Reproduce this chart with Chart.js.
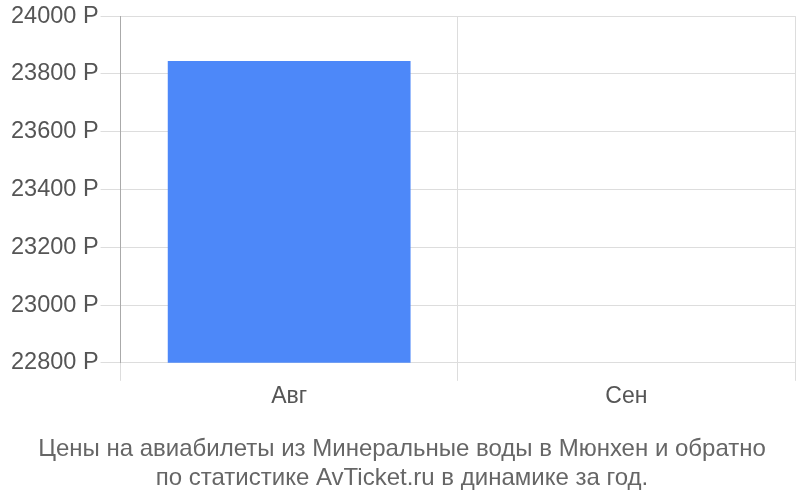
<!DOCTYPE html>
<html>
<head>
<meta charset="utf-8">
<script src="https://cdn.jsdelivr.net/npm/chart.js@4/dist/chart.umd.min.js"></script>
<style>
  html, body { margin: 0; padding: 0; background: #fff; }
  #wrap { width: 800px; height: 500px; }
</style>
</head>
<body>
<div id="wrap"><canvas id="barchart"></canvas></div>
<script>
var months = ['Авг', 'Сен'];
var prices = [23845, null];
var titleLines = [
    'Цены на авиабилеты из Минеральные воды в Мюнхен и обратно',
    'по статистике AvTicket.ru в динамике за год.'
];

function renderBarChart()
{
    var ctx = document.getElementById('barchart').getContext('2d');
    new Chart(ctx, {
        type: 'bar',
        data: {
            labels: months,
            datasets: [{
                data: prices,
                backgroundColor: '#4d88f9',
                barPercentage: 0.72,
                categoryPercentage: 1.0
            }]
        },
        options: {
            responsive: true,
            maintainAspectRatio: false,
            animation: false,
            layout: { padding: { left: 9, right: 5, top: 5, bottom: 7 } },
            plugins: {
                legend: { display: false },
                tooltip: { enabled: false },
                title: {
                    display: true,
                    position: 'bottom',
                    text: titleLines,
                    color: '#666',
                    font: { family: 'Liberation Sans', size: 24, weight: 'normal', lineHeight: 1.22 },
                    padding: { top: 22, bottom: 0 }
                }
            },
            scales: {
                x: {
                    grid: { color: '#ddd', tickLength: 18, tickColor: '#ddd' },
                    border: { color: '#ddd' },
                    ticks: { color: '#555', font: { family: 'Liberation Sans', size: 23 }, padding: 2 }
                },
                y: {
                    min: 22800,
                    max: 24000,
                    grid: { color: '#ddd', tickLength: 20, tickColor: '#ddd' },
                    border: { color: '#aaa' },
                    ticks: {
                        stepSize: 200,
                        color: '#555',
                        padding: 2,
                        font: { family: 'Liberation Sans', size: 23.5 },
                        callback: function(v) { return v + ' Р'; }
                    }
                }
            }
        }
    });
}

renderBarChart();
</script>
</body>
</html>
